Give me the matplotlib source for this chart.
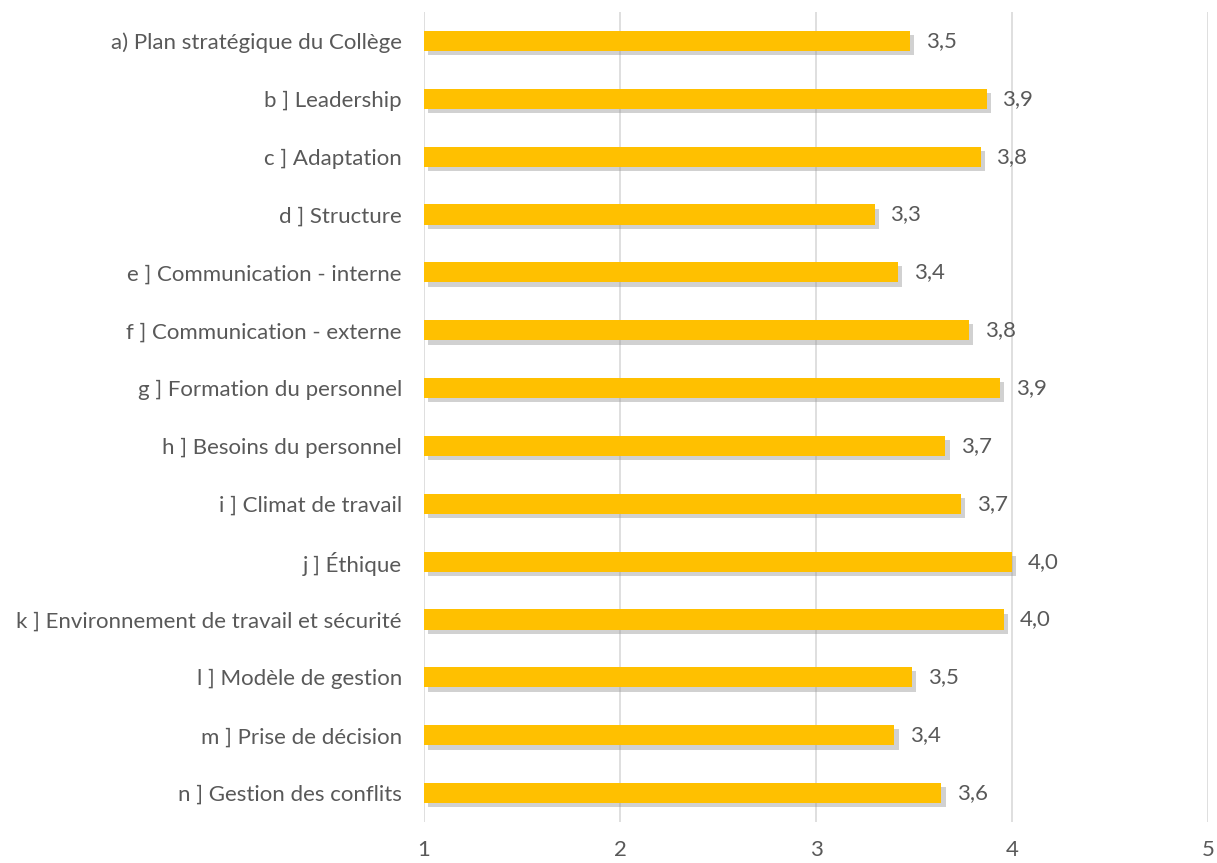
import matplotlib
matplotlib.use("Agg")
import matplotlib.pyplot as plt
import matplotlib.patheffects as pe

categories = [
    "a) Plan stratégique du Collège",
    "b ] Leadership",
    "c ] Adaptation",
    "d ] Structure",
    "e ] Communication - interne",
    "f ] Communication - externe",
    "g ] Formation du personnel",
    "h ] Besoins du personnel",
    "i ] Climat de travail",
    "j ] Éthique",
    "k ] Environnement de travail et sécurité",
    "l ] Modèle de gestion",
    "m ] Prise de décision",
    "n ] Gestion des conflits",
]
values = [3.48, 3.87, 3.84, 3.30, 3.42, 3.78, 3.94, 3.66, 3.74, 4.00, 3.96, 3.49, 3.40, 3.64]
labels = ["3,5", "3,9", "3,8", "3,3", "3,4", "3,8", "3,9", "3,7", "3,7", "4,0", "4,0", "3,5", "3,4", "3,6"]
xticks = [1, 2, 3, 4, 5]

plt.rcParams['font.family'] = ['Lato', 'DejaVu Sans']
txt = '#595959'

fig = plt.figure(figsize=(12.17, 8.63), dpi=100)
ax = fig.add_axes([424/1217, 41/863, (1208-424)/1217, 810/863])

ypos = list(range(len(categories)))
bars = ax.barh(ypos, [v - 1 for v in values], left=1, height=0.35,
               color='#FFC000', zorder=3)
for b in bars:
    b.set_path_effects([pe.SimplePatchShadow(offset=(3, -3), shadow_rgbFace='#999999', alpha=0.45),
                        pe.Normal()])

for y, v, lab in zip(ypos, values, labels):
    ax.text(v + 0.08, y, lab, va='center', ha='left', fontsize=16, color=txt)

ax.set_xlim(1, 5)
ax.set_ylim(len(categories) - 0.5, -0.5)
ax.set_xticks(xticks)
ax.set_xticklabels([str(t) for t in xticks], fontsize=16, color=txt)
ax.set_yticks(ypos)
ax.set_yticklabels(categories, fontsize=16, color=txt)
ax.tick_params(length=0)
ax.tick_params(axis='y', pad=16)
ax.tick_params(axis='x', pad=13)
ax.grid(axis='x', color='#D9D9D9', linewidth=1.2, zorder=0)
for s in ax.spines.values():
    s.set_visible(False)

fig.savefig('out.png', dpi=100)
